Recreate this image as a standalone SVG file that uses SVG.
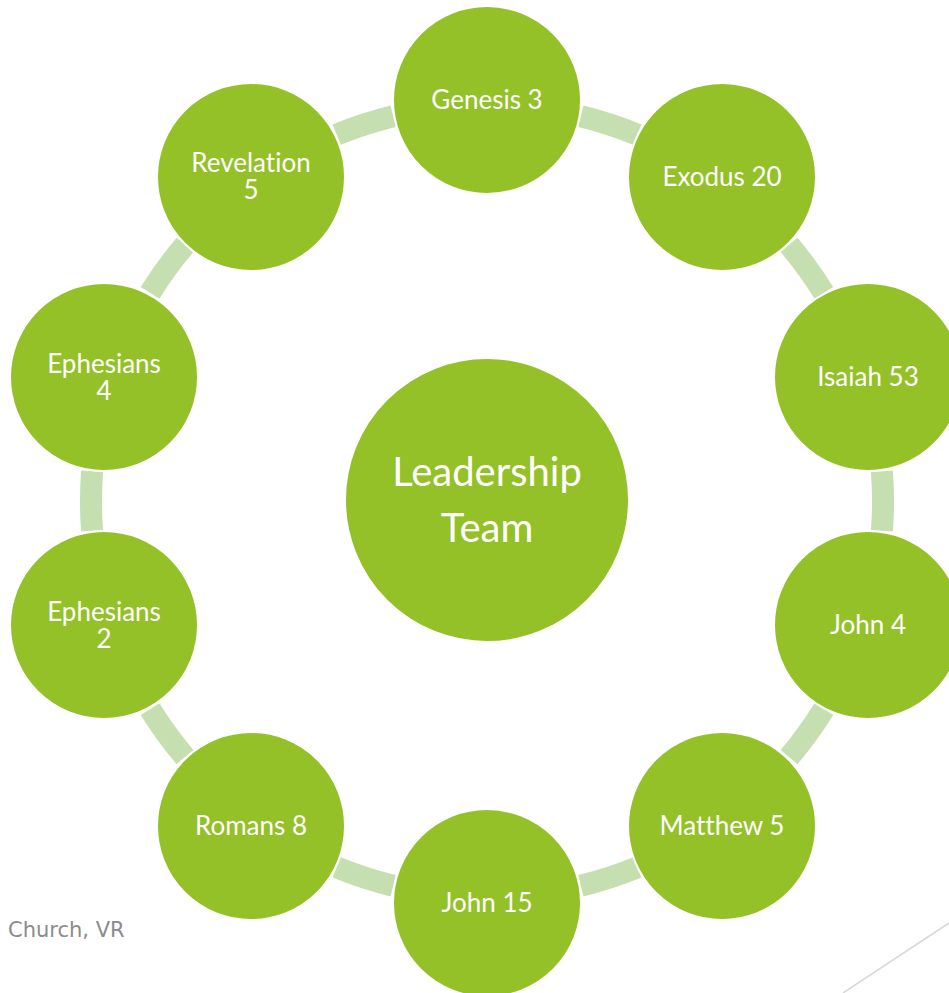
<svg xmlns="http://www.w3.org/2000/svg" width="949" height="993" viewBox="0 0 949 993">
<style>
.node{fill:#93C127;stroke:#ffffff;stroke-width:2}
.lbl{fill:#ffffff;font-family:Lato,"Open Sans",sans-serif;font-size:26px;text-anchor:middle;font-variant-ligatures:none}
.big{fill:#ffffff;font-family:Lato,"Open Sans",sans-serif;font-size:40px;text-anchor:middle;font-variant-ligatures:none}
.conn path{fill:none;stroke:#C6DFB1;stroke-width:22;stroke-linecap:butt}
</style>
<rect width="949" height="993" fill="#ffffff"/>
<line x1="843" y1="993" x2="949" y2="923" stroke="#D9D9D9" stroke-width="1.5"/>
<text x="8" y="937" font-family="'DejaVu Sans',sans-serif" font-size="21" fill="#8C8C8C">Church, VR</text>
<g id="connectors" class="conn">
<path d="M580.8 116.2 A396 396 0 0 1 637.3 134.6"/>
<path d="M789.0 244.9 A396 396 0 0 1 823.9 292.9"/>
<path d="M881.9 471.3 A396 396 0 0 1 881.9 530.7"/>
<path d="M823.9 709.1 A396 396 0 0 1 789.0 757.1"/>
<path d="M637.3 867.4 A396 396 0 0 1 580.8 885.8"/>
<path d="M393.2 885.8 A396 396 0 0 1 336.7 867.4"/>
<path d="M185.0 757.1 A396 396 0 0 1 150.1 709.1"/>
<path d="M92.1 530.7 A396 396 0 0 1 92.1 471.3"/>
<path d="M150.1 292.9 A396 396 0 0 1 185.0 244.9"/>
<path d="M336.7 134.6 A396 396 0 0 1 393.2 116.2"/>
</g>
<g id="center"><circle class="node" cx="487" cy="500" r="142"/><text class="big" x="487" y="486">Leadership<tspan x="487" dy="56">Team</tspan></text></g>
<g id="genesis3"><circle class="node" cx="487" cy="100" r="94"/><text class="lbl" x="487" y="109">Genesis 3</text></g>
<g id="exodus20"><circle class="node" cx="722" cy="177" r="94"/><text class="lbl" x="722" y="186">Exodus 20</text></g>
<g id="isaiah53"><circle class="node" cx="868" cy="377" r="94"/><text class="lbl" x="868" y="386">Isaiah 53</text></g>
<g id="john4"><circle class="node" cx="868" cy="625" r="94"/><text class="lbl" x="868" y="634">John 4</text></g>
<g id="matthew5"><circle class="node" cx="722" cy="826" r="94"/><text class="lbl" x="722" y="835">Matthew 5</text></g>
<g id="john15"><circle class="node" cx="487" cy="903" r="94"/><text class="lbl" x="487" y="912">John 15</text></g>
<g id="romans8"><circle class="node" cx="251" cy="826" r="94"/><text class="lbl" x="251" y="835">Romans 8</text></g>
<g id="ephesians2"><circle class="node" cx="104" cy="625" r="94"/><text class="lbl" x="104" y="621">Ephesians<tspan x="104" dy="27">2</tspan></text></g>
<g id="ephesians4"><circle class="node" cx="104" cy="377" r="94"/><text class="lbl" x="104" y="373">Ephesians<tspan x="104" dy="27">4</tspan></text></g>
<g id="revelation5"><circle class="node" cx="251" cy="177" r="94"/><text class="lbl" x="251" y="172">Revelation<tspan x="251" dy="27">5</tspan></text></g>
</svg>
